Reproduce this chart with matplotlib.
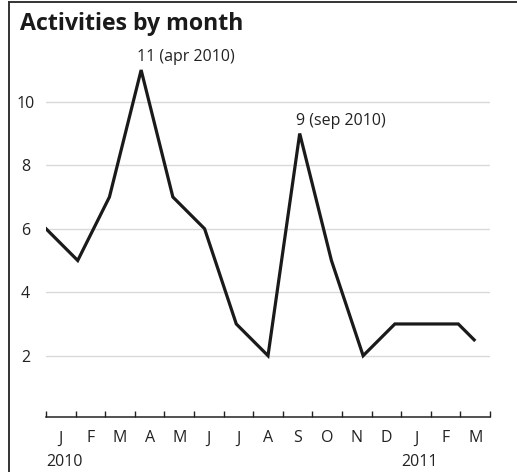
import matplotlib.pyplot as plt
from matplotlib.lines import Line2D
import numpy as np

plt.rcParams['font.family'] = ['Open Sans', 'DejaVu Sans']

# monthly activity counts, Jan 2010 .. mid Mar 2011
month_pos = [0, 1, 2, 3, 4, 5, 6, 7, 8, 9, 10, 11, 12, 13, 13.5]
activities = [6, 5, 7, 11, 7, 6, 3, 2, 9, 5, 2, 3, 3, 3, 2.5]
month_labels = ['J', 'F', 'M', 'A', 'M', 'J', 'J', 'A', 'S', 'O', 'N', 'D', 'J', 'F', 'M']
years = ['2010', '2011']
y_ticks = [2, 4, 6, 8, 10]

ink = '#222222'

fig = plt.figure(figsize=(5.17, 4.72), dpi=100)
ax = fig.add_axes([46 / 517, 0.1159, 444 / 517, 0.803])

ax.plot(month_pos, activities, color='#1a1a1a', lw=2.3, solid_joinstyle='miter', zorder=3)

ax.set_xlim(0, 14)
ax.set_ylim(0.06, 12)

# month boundaries as ticks, labels centred between them
edges = np.linspace(0, 14, len(month_labels) + 1)
ax.set_xticks(edges)
ax.set_xticklabels([])
ax.set_xticks((edges[:-1] + edges[1:]) / 2, minor=True)
ax.set_xticklabels(month_labels, minor=True, fontsize=11.5, color=ink)
ax.tick_params(axis='x', which='major', direction='in', length=4.3, width=1, color=ink)
ax.tick_params(axis='x', which='minor', length=0, pad=9.5)

ax.set_yticks(y_ticks)
ax.set_yticklabels([str(v) for v in y_ticks], fontsize=11.5, color=ink)
for lab in ax.get_yticklabels():
    lab.set_ha('center')
ax.tick_params(axis='y', length=0, pad=14.8)
ax.grid(axis='y', color='#d9d9d9', lw=1)
ax.set_axisbelow(True)

for s in ['left', 'right', 'top']:
    ax.spines[s].set_visible(False)
ax.spines['bottom'].set_color(ink)
ax.spines['bottom'].set_linewidth(1.1)

# year labels under January
trans = ax.get_xaxis_transform()
ax.text(edges[0], -0.117, years[0], transform=trans, ha='left', va='center', fontsize=11.5, color=ink)
ax.text(edges[12], -0.117, years[1], transform=trans, ha='left', va='center', fontsize=11.5, color=ink)

# peak annotations
ax.annotate('11 (apr 2010)', (month_pos[3], activities[3]), xytext=(-3, 3.5), textcoords='offset points',
            ha='left', va='bottom', fontsize=11.5, color=ink)
ax.annotate('9 (sep 2010)', (month_pos[8], activities[8]), xytext=(-3, 3.5), textcoords='offset points',
            ha='left', va='bottom', fontsize=11.5, color=ink)

fig.text(20 / 517, (472 - 30) / 472, 'Activities by month', fontsize=16.7, fontweight='bold',
         color='#1a1a1a', ha='left', va='baseline')

# frame lines (left and top)
fig.add_artist(Line2D([8.5 / 517, 8.5 / 517], [0, 1 - 1.5 / 472], transform=fig.transFigure, color='#333333', lw=1.4))
fig.add_artist(Line2D([8.5 / 517, 1], [1 - 1.5 / 472, 1 - 1.5 / 472], transform=fig.transFigure, color='#333333', lw=1.4))

fig.savefig('out.png', dpi=100)
